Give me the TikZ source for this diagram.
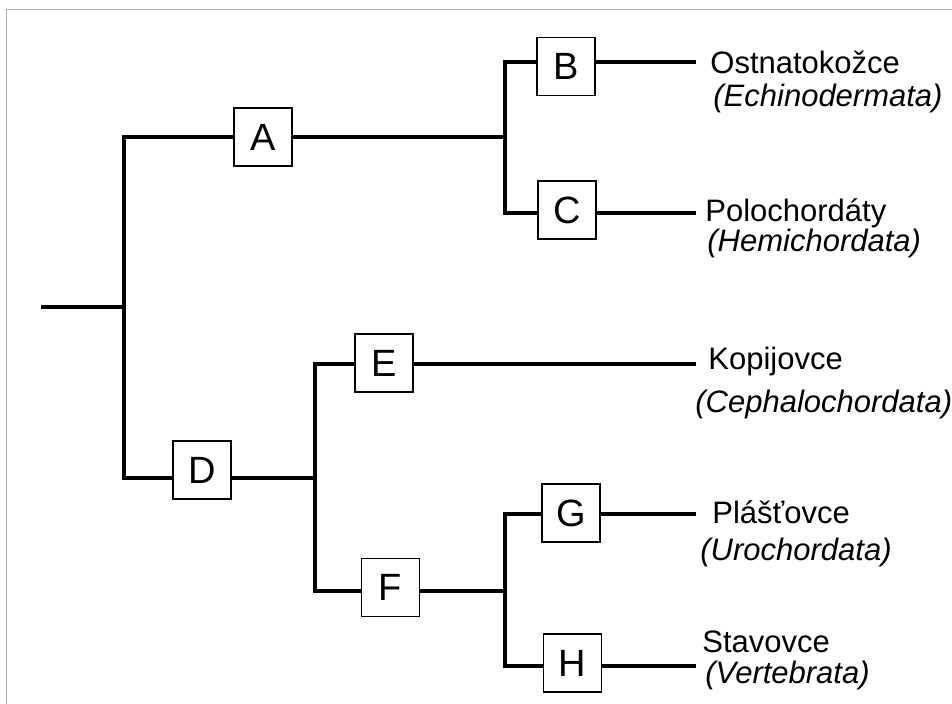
\documentclass[tikz,border=0pt]{standalone}
\usepackage{fontspec}
\setmainfont{Liberation Sans}
\usepackage{xcolor}
\usetikzlibrary{positioning}
\definecolor{framegray}{RGB}{175,175,175}

\begin{document}
\begin{tikzpicture}[x=0.5pt, y=-0.5pt,
    clade/.style={rectangle, draw, fill=white, line width=0.9pt, minimum size=29pt, inner sep=0pt, font=\fontsize{19}{22}\selectfont},
    branch/.style={line width=2pt},
    taxon/.style={anchor=base west, inner sep=0pt, font=\fontsize{15.5}{18}\selectfont},
    latin/.style={taxon, font=\fontsize{15.5}{18}\selectfont\itshape}
]
    \useasboundingbox (0,0) rectangle (952,704);
    \draw[framegray, line width=0.8pt] (6.5,704) -- (6.5,9.5) -- (952,9.5);

    % branch points and leaf ends
    \coordinate (root) at (41,307);
    \coordinate (j0) at (124,307);
    \coordinate (jBC) at (505,137.5);
    \coordinate (jEF) at (315,478);
    \coordinate (jGH) at (505,591.5);
    \coordinate (leafB) at (696,62);
    \coordinate (leafC) at (696,213);
    \coordinate (leafE) at (696,364);
    \coordinate (leafG) at (696,514);
    \coordinate (leafH) at (696,666);

    \draw[branch] (root) -- (j0);
    \draw[branch] (jBC) -| (j0) |- (jEF);
    \draw[branch] (leafB) -| (jBC) |- (leafC);
    \draw[branch] (leafE) -| (jEF) |- (jGH);
    \draw[branch] (leafG) -| (jGH) |- (leafH);

    \node[clade] (A) at (263,137) {A};
    \node[clade] (B) at (566,66.5) {B};
    \node[clade] (C) at (567,210) {C};
    \node[clade] (D) at (202,470) {D};
    \node[clade] (E) at (384,363) {E};
    \node[clade] (F) at (390.5,587.5) {F};
    \node[clade] (G) at (571,513) {G};
    \node[clade] (H) at (572.5,663) {H};

    \node[taxon] (ostn) at (710,74) {Ostnatokožce};
    \node[latin] (echi) at (713,107) {(Echinodermata)};
    \node[taxon] (polo) at (705,222) {Polochordáty};
    \node[latin] (hemi) at (707,252) {(Hemichordata)};
    \node[taxon] (kopi) at (708,370) {Kopijovce};
    \node[latin] (ceph) at (695,413) {(Cephalochordata)};
    \node[taxon] (plas) at (712,524) {Plášťovce};
    \node[latin] (uroc) at (700,561) {(Urochordata)};
    \node[taxon] (stav) at (702,653) {Stavovce};
    \node[latin] (vert) at (705,683) {(Vertebrata)};
\end{tikzpicture}
\end{document}
